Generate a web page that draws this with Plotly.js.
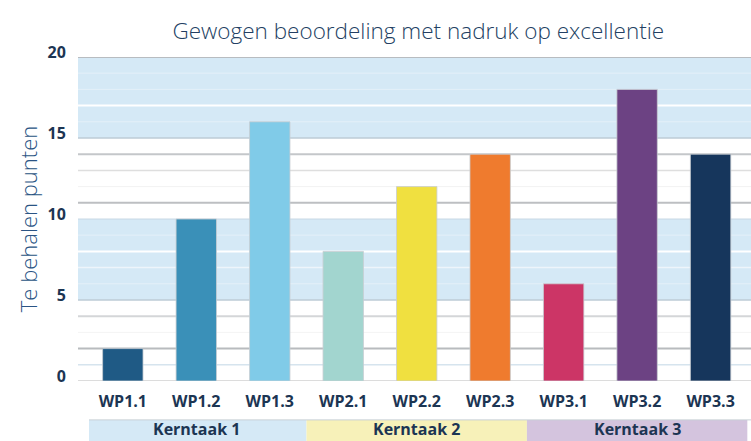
<!DOCTYPE html>
<html>
<head>
<meta charset="utf-8">
<script src="https://cdn.plot.ly/plotly-3.0.1.min.js"></script>
<style>html,body{margin:0;padding:0;background:#fff;}#chart{width:751px;height:441px;}</style>
</head>
<body>
<div id="chart"></div>
<script>
// Data
const categories = ["WP1.1","WP1.2","WP1.3","WP2.1","WP2.2","WP2.3","WP3.1","WP3.2","WP3.3"];
const points = [2, 10, 16, 8, 12, 14, 6, 18, 14];
const barColors = ["#1f5a85","#3a90b8","#80cbe8","#a2d5cf","#f0e040","#ef7b2e","#cc3566","#6c4283","#16365c"];
const groups = ["Kerntaak 1","Kerntaak 2","Kerntaak 3"];
const groupColors = ["#d5e9f6","#f7f1b9","#d4c4de"];
const yTicks = [0, 5, 10, 15, 20];

const navy = "#1c3553";
const shapes = [];
// horizontal background bands
const blueBands = [[5,10],[15,20]];
blueBands.forEach(b => shapes.push({type:"rect", xref:"paper", yref:"y", x0:0, x1:1, y0:b[0], y1:b[1],
  fillcolor:"#d5e9f6", line:{width:0}, layer:"below"}));
// grid lines
const lineStyle = {
  20:["#b8bcc0",2], 19:["#e4f0f9",1], 18:["#e4f0f9",1], 17:["#ffffff",2], 16:["#e4f0f9",1],
  15:["#bccbd6",1.5], 14:["#c4c7ca",2], 13:["#dedede",1.5], 12:["#f2f2f2",1], 11:["#bdbfc2",2],
  10:["#c8d8e4",1], 9:["#e4f0f9",1], 8:["#ffffff",2], 7:["#eef5fb",1.5], 6:["#e4f0f9",1],
  5:["#bccbd6",1.5], 4:["#d4d6d8",2], 3:["#f4f4f4",1], 2:["#b8bbbe",2], 1:["#d6e4ee",1.5], 0:["#dcdcdc",2]
};
Object.keys(lineStyle).forEach(k => {
  const s = lineStyle[k];
  shapes.push({type:"line", xref:"paper", yref:"y", x0:0, x1:1, y0:+k, y1:+k,
    line:{color:s[0], width:s[1]}, layer:"below"});
});
// category group bands below the axis
const annotations = [];
groups.forEach((g,i) => {
  shapes.push({type:"rect", xref:"x", yref:"paper", x0:i*3-(i===0?0.46:0.5), x1:i*3+2.5, y0:-0.187, y1:-0.12,
    fillcolor:groupColors[i], line:{width:0}, layer:"above"});
  annotations.push({xref:"x", yref:"paper", x:i*3+1, y:-0.184, text:"<b>"+g+"</b>", showarrow:false,
    font:{family:"Open Sans, sans-serif", size:16, color:navy}, yanchor:"bottom", borderpad:0});
});
shapes.push({type:"line", xref:"x", yref:"paper", x0:-0.46, x1:8.6, y0:-0.12, y1:-0.12,
  line:{color:"#c8d0d6", width:1}});

const trace = {
  type:"bar", x:categories, y:points,
  marker:{color:barColors, line:{color:"rgba(200,205,210,0.8)", width:1}},
  width:0.55, hoverinfo:"x+y"
};

const layout = {
  width:751, height:441,
  margin:{l:78, r:0, t:57, b:60},
  paper_bgcolor:"#fff", plot_bgcolor:"rgba(0,0,0,0)",
  showlegend:false,
  title:{text:"Gewogen beoordeling met nadruk op excellentie", x:0.557, xanchor:"center", y:0.93, yanchor:"middle",
    font:{family:"Open Sans, sans-serif", size:22.5, color:"#233f63", weight:300}},
  xaxis:{range:[-0.61, 8.55], showgrid:false, zeroline:false, showline:false, ticks:"outside", ticklen:6,
    tickcolor:"rgba(0,0,0,0)",
    tickfont:{family:"Open Sans, sans-serif", size:16, color:navy, weight:"bold"}, fixedrange:true},
  yaxis:{range:[0,20], tickvals:yTicks, ticktext:yTicks.map(v=>"<b>"+v+"</b>"), showgrid:false, zeroline:false,
    showline:false, ticks:"outside", ticklen:8, tickcolor:"rgba(0,0,0,0)", ticklabelshift:-5,
    tickfont:{family:"Open Sans, sans-serif", size:16, color:navy},
    title:{text:"Te behalen punten", standoff:3, font:{family:"Open Sans, sans-serif", size:22, color:"#2a5484", weight:300}},
    fixedrange:true},
  shapes:shapes, annotations:annotations
};

Plotly.newPlot("chart", [trace], layout, {displayModeBar:false, staticPlot:true});
</script>
</body>
</html>
